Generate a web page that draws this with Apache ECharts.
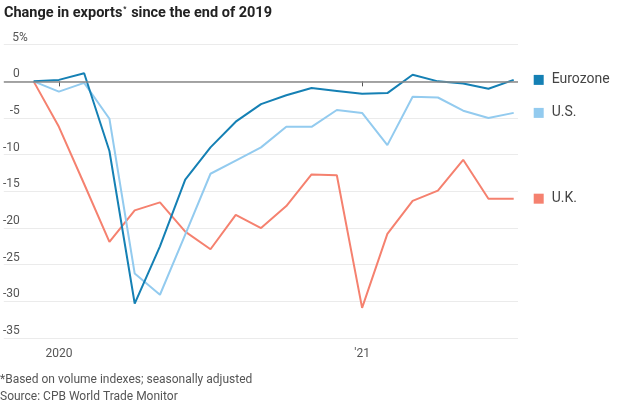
<!DOCTYPE html>
<html>
<head>
<meta charset="utf-8">
<script src="https://cdn.jsdelivr.net/npm/echarts@6/dist/echarts.min.js"></script>
<style>html,body{margin:0;padding:0;background:#fff;}#c{width:624px;height:404px;}</style>
</head>
<body>
<div id="c"></div>
<script>
// Months: index 0 = Dec 2019 ... index 19 = Jul 2021
const months = ['Dec 2019','Jan 2020','Feb 2020','Mar 2020','Apr 2020','May 2020','Jun 2020','Jul 2020','Aug 2020','Sep 2020','Oct 2020','Nov 2020','Dec 2020','Jan 2021','Feb 2021','Mar 2021','Apr 2021','May 2021','Jun 2021','Jul 2021'];
const eurozone = [0, 0.2, 1.1, -9.5, -30.3, -22.5, -13.4, -9.0, -5.5, -3.1, -1.9, -0.9, -1.3, -1.7, -1.6, 0.9, 0.0, -0.3, -1.0, 0.2];
const us = [0, -1.4, -0.2, -5.1, -26.2, -29.1, -20.9, -12.6, -10.8, -9.0, -6.2, -6.2, -3.9, -4.3, -8.7, -2.1, -2.2, -4.0, -5.0, -4.3];
const uk = [0, -6.2, -14.0, -21.9, -17.6, -16.5, -20.5, -22.9, -18.2, -20.0, -17.0, -12.7, -12.8, -30.9, -20.8, -16.3, -14.9, -10.7, -16.0, -16.0];
const xTickValues = [1, 13];
const xTickLabels = ['2020', "'21"];
const seriesNames = ['Eurozone', 'U.S.', 'U.K.'];
const colors = {'Eurozone': '#1580b4', 'U.S.': '#93cbef', 'U.K.': '#f5816f'};

const FONT = 'Roboto, "Liberation Sans", sans-serif';
const toPairs = arr => arr.map((v, i) => [i, v]);

function mkSeries(name, data, z) {
  return {
    name: name, type: 'line', data: toPairs(data), symbol: 'none', z: z,
    lineStyle: {color: colors[name], width: 2},
    itemStyle: {color: colors[name]},
    emphasis: {disabled: true},
    endLabel: {
      show: true, distance: 20,
      formatter: '{sq|}{t|' + name + '}',
      rich: {
        sq: {width: 10, height: 10, backgroundColor: colors[name]},
        t: {fontFamily: FONT, fontSize: 14, color: '#444', padding: [0, 0, 0, 8]}
      }
    }
  };
}

const chart = echarts.init(document.getElementById('c'), null, {renderer: 'canvas'});
chart.setOption({
  animation: false,
  title: {
    text: 'Change in exports{s|*} since the end of 2019',
    left: -1, top: 1,
    textStyle: {
      fontFamily: FONT, fontSize: 14.5, fontWeight: 'bold', color: '#222',
      rich: {s: {fontFamily: FONT, fontSize: 7, color: '#222', verticalAlign: 'top', padding: [0, 1, 6, 1]}}
    }
  },
  graphic: [
    {type: 'text', left: 0, top: 374, style: {text: '*Based on volume indexes; seasonally adjusted', font: '12px ' + FONT, fill: '#555'}},
    {type: 'text', left: 0, top: 391, style: {text: 'Source: CPB World Trade Monitor', font: '12px ' + FONT, fill: '#555'}}
  ],
  grid: {left: 0, right: 106, top: 44.7, bottom: 66, containLabel: false},
  xAxis: {
    type: 'value', min: -1.18, max: 19.17,
    axisLine: {show: false},
    splitLine: {show: false},
    axisTick: {show: true, customValues: xTickValues, length: 5, lineStyle: {color: '#555', width: 1}},
    axisLabel: {
      show: true, customValues: xTickValues, margin: 10,
      fontFamily: FONT, fontSize: 12, color: '#555',
      formatter: v => xTickLabels[xTickValues.indexOf(Math.round(v))] || ''
    }
  },
  yAxis: {
    type: 'value', min: -35, max: 5, interval: 5,
    axisLine: {show: false}, axisTick: {show: false},
    splitLine: {show: true, lineStyle: {color: '#ebebeb', width: 1}},
    axisLabel: {
      show: true, margin: 0, align: 'left', verticalAlign: 'bottom',
      fontFamily: FONT, fontSize: 12, color: '#555', padding: [0, 0, 1, 0],
      formatter: v => v === 5 ? '{m|5%}' : '{n|' + v + '}',
      rich: {
        n: {width: 16, align: 'right', fontFamily: FONT, fontSize: 12, color: '#555'},
        m: {width: 24, align: 'right', fontFamily: FONT, fontSize: 12, color: '#555'}
      }
    }
  },
  series: [
    Object.assign(mkSeries('U.K.', uk, 2), {
      markLine: {
        silent: true, symbol: 'none', label: {show: false},
        lineStyle: {color: '#888', width: 1.5, type: 'solid'},
        data: [{yAxis: 0}]
      }
    }),
    mkSeries('U.S.', us, 3),
    mkSeries('Eurozone', eurozone, 4)
  ]
});
</script>
</body>
</html>
